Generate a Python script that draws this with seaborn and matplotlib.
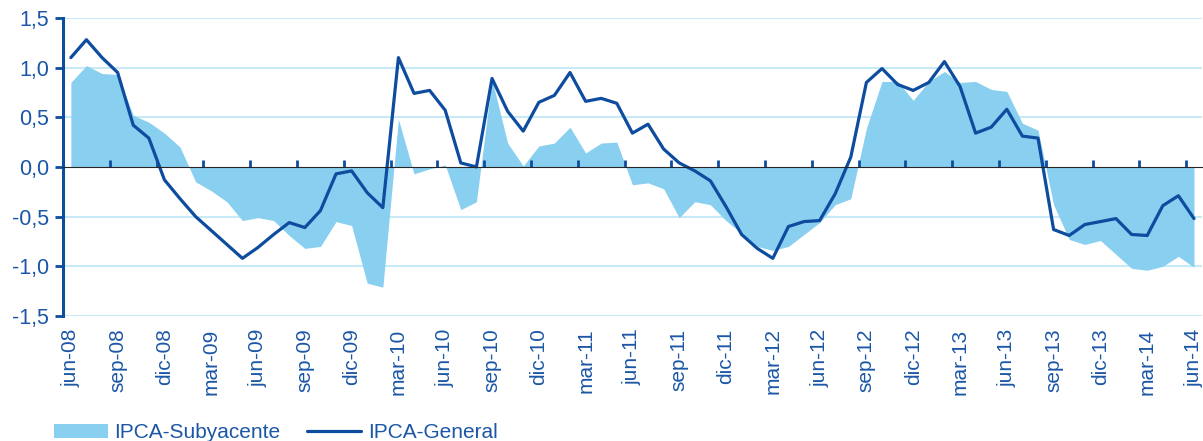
import matplotlib
matplotlib.use("Agg")
import matplotlib.pyplot as plt
import numpy as np
import pandas as pd
import seaborn as sns

# --- Data (monthly, jun-08 .. jun-14) ---
general = [1.10, 1.28, 1.10, 0.95, 0.42, 0.29, -0.13, -0.32, -0.50, -0.64,
           -0.78, -0.92, -0.81, -0.68, -0.56, -0.61, -0.44, -0.07, -0.04, -0.26,
           -0.41, 1.10, 0.74, 0.77, 0.57, 0.04, 0.00, 0.89, 0.56, 0.36,
           0.65, 0.72, 0.95, 0.66, 0.69, 0.64, 0.34, 0.43, 0.18, 0.04,
           -0.04, -0.14, -0.40, -0.68, -0.82, -0.92, -0.60, -0.55, -0.54, -0.27,
           0.10, 0.85, 0.99, 0.83, 0.77, 0.85, 1.06, 0.81, 0.34, 0.40,
           0.58, 0.31, 0.29, -0.63, -0.69, -0.58, -0.55, -0.52, -0.68, -0.69,
           -0.39, -0.29, -0.52]
subyacente = [0.85, 1.02, 0.94, 0.93, 0.52, 0.45, 0.34, 0.20, -0.15, -0.24,
              -0.35, -0.54, -0.51, -0.54, -0.69, -0.82, -0.80, -0.55, -0.59, -1.17,
              -1.21, 0.48, -0.07, -0.02, 0.02, -0.43, -0.35, 0.88, 0.24, 0.01,
              0.21, 0.24, 0.40, 0.14, 0.24, 0.25, -0.18, -0.16, -0.22, -0.51,
              -0.35, -0.38, -0.54, -0.67, -0.80, -0.84, -0.80, -0.68, -0.56, -0.38,
              -0.32, 0.39, 0.86, 0.86, 0.67, 0.86, 0.96, 0.85, 0.86, 0.78,
              0.76, 0.44, 0.37, -0.38, -0.73, -0.78, -0.74, -0.88, -1.02, -1.04,
              -1.00, -0.90, -1.01]
tick_labels = ["jun-08", "sep-08", "dic-08", "mar-09", "jun-09", "sep-09", "dic-09",
               "mar-10", "jun-10", "sep-10", "dic-10", "mar-11", "jun-11", "sep-11",
               "dic-11", "mar-12", "jun-12", "sep-12", "dic-12", "mar-13", "jun-13",
               "sep-13", "dic-13", "mar-14", "jun-14"]
y_ticks = [-1.5, -1.0, -0.5, 0.0, 0.5, 1.0, 1.5]

df = pd.DataFrame({"idx": np.arange(len(general)),
                   "IPCA-General": general,
                   "IPCA-Subyacente": subyacente})

# --- Style ---
sns.set_style("white")
plt.rcParams["font.family"] = ["Liberation Sans", "DejaVu Sans"]
dark = "#0D4C9E"
text_c = "#1B57A6"
area_c = "#89CFF0"
grid_c = "#C8EAF8"

fig = plt.figure(figsize=(12.03, 4.41), dpi=100)
ax = fig.add_axes([0.0524, 0.2835, 0.9466, 0.676])

for v in y_ticks:
    if v != 0:
        ax.axhline(v, color=grid_c, lw=1.5, zorder=0)

ax.fill_between(df["idx"], 0, df["IPCA-Subyacente"], color=area_c, lw=0,
                label="IPCA-Subyacente", zorder=1)
sns.lineplot(data=df, x="idx", y="IPCA-General", color=dark, lw=2.3, ax=ax,
             label="IPCA-General", zorder=3)

ax.set_xlim(-0.5, len(general) - 0.5)
ax.set_ylim(-1.5, 1.5)
ax.set_yticks(y_ticks)
ax.set_yticklabels([f"{v:.1f}".replace(".", ",") for v in y_ticks])
ax.set_xticks(np.arange(0, len(general), 3))
ax.set_xticklabels(tick_labels, rotation=90)
ax.tick_params(axis="x", length=0, pad=9, labelsize=15, labelcolor=text_c)
ax.tick_params(axis="y", length=6, width=2, color=dark, direction="out",
               pad=4, labelsize=15.5, labelcolor=text_c, left=True)
ax.set_xlabel("")
ax.set_ylabel("")
for s in ["top", "right", "bottom"]:
    ax.spines[s].set_visible(False)
ax.spines["left"].set_color(dark)
ax.spines["left"].set_linewidth(2.2)

# zero axis with category-boundary ticks
zx = ax.secondary_xaxis(0.5)
zx.set_xticks(np.arange(-0.5, len(general) - 1, 3))
zx.set_xticklabels([])
zx.tick_params(length=5, width=2, color=dark, direction="out")
zx.spines["bottom"].set_color(dark)
zx.spines["bottom"].set_linewidth(2.8)
zx.set_zorder(4)

ax.legend_.remove()
h, l = ax.get_legend_handles_labels()
fig.legend(h, l, loc="lower left", bbox_to_anchor=(0.029, -0.045), ncol=2,
           frameon=False, fontsize=15, labelcolor=text_c, handlelength=2.6,
           handletextpad=0.3, columnspacing=1.3)

fig.savefig("out.png", dpi=100)
